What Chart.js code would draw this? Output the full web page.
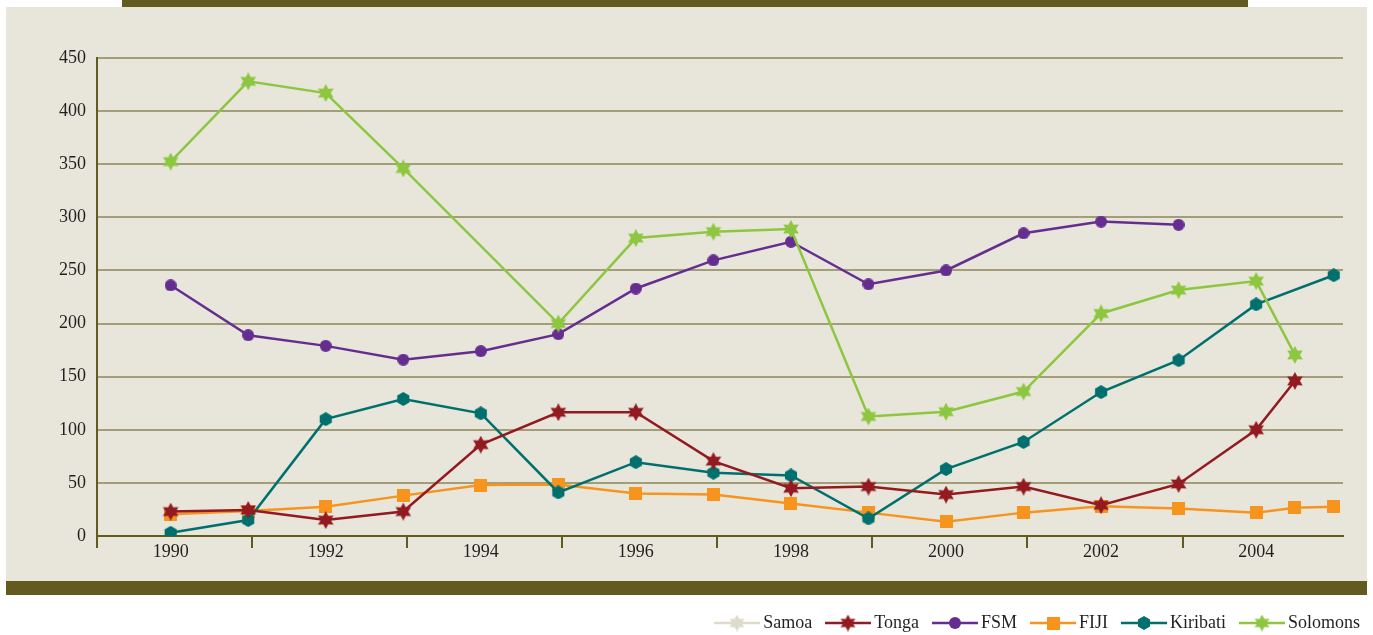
<!DOCTYPE html>
<html>
<head>
<meta charset="utf-8">
<script src="https://cdn.jsdelivr.net/npm/chart.js@4/dist/chart.umd.min.js"></script>
<style>
  body { margin: 0; background: #fff; width: 1373px; height: 635px; position: relative; overflow: hidden; }
  #panel { position: absolute; left: 6px; top: 7px; width: 1361px; height: 574px; background: #e8e6da; }
  #topBar { position: absolute; left: 122px; top: 0; width: 1126px; height: 7px; background: #625a1e; }
  #bottomBar { position: absolute; left: 6px; top: 581px; width: 1361px; height: 14px; background: #625a1e; }
  #chartBox { position: absolute; left: 0; top: 0; width: 1373px; height: 635px; }
  #legend { position: absolute; right: 13px; top: 612px; display: flex; align-items: center; gap: 13px;
            font-family: 'Liberation Serif', serif; font-size: 18px; color: #231f20; }
  .item { display: flex; align-items: center; gap: 3px; }
</style>
</head>
<body>
<div id="panel"></div>
<div id="topBar"></div>
<div id="bottomBar"></div>
<div id="chartBox"><canvas id="chart"></canvas></div>
<div id="legend"></div>
<script>
// years on a linear axis; 2004.5 and 2005 are the extra points at the right edge
const years = [1990, 1991, 1992, 1993, 1994, 1995, 1996, 1997, 1998, 1999, 2000, 2001, 2002, 2003, 2004, 2004.5, 2005];
const samoa = [null, null, null, null, null, null, null, null, null, null, null, null, null, null, null, null, null];
const tonga = [23, 24.5, 15, 23, 86, 116.5, 116.5, 70.5, 45, 46.5, 39, 46.5, 29, 49, 100, 146, null];
const fsm = [236, 189, 179, 166, 174, 190, 233, 259.5, 277, 237, 250, 285, 296, 293, null, null, null];
const fiji = [20.5, 23.5, 27.5, 38, 48, 48.5, 40, 39, 30.5, 22, 13.5, 22, 28, 26, 22, 26.5, 27.5];
const kiribati = [3, 15, 110, 129, 115.5, 41, 69.5, 59.5, 57, 16.5, 63, 88.5, 135.5, 165.5, 218, null, 245.5];
const solomons = [352.5, 428, 417, 346, null, 200, 280.5, 286.5, 289, 112.5, 117, 136, 209.5, 231.5, 240, 170.5, null];
const yTicks = [0, 50, 100, 150, 200, 250, 300, 350, 400, 450];
const xLabelYears = [1990, 1992, 1994, 1996, 1998, 2000, 2002, 2004];

const olive = '#625a1e';
const gridColor = '#a39d78';
const font = { family: "'Liberation Serif', serif", size: 18 };

function makeMarker(shape, color, size) {
    const c = document.createElement('canvas');
    c.width = size; c.height = size;
    const g = c.getContext('2d');
    const cx = size / 2, cy = size / 2;
    g.fillStyle = color;
    g.beginPath();
    if (shape === 'star') {
        const ro = size / 2, ri = size / 3.6;
        for (let i = 0; i < 12; i++) {
            const r = i % 2 === 0 ? ro : ri;
            const a = -Math.PI / 2 + i * Math.PI / 6;
            g.lineTo(cx + r * Math.cos(a), cy + r * Math.sin(a));
        }
    } else if (shape === 'hex') {
        const r = size / 2;
        for (let i = 0; i < 6; i++) {
            const a = -Math.PI / 2 + i * Math.PI / 3;
            g.lineTo(cx + r * Math.cos(a), cy + r * Math.sin(a));
        }
    } else if (shape === 'square') {
        g.rect(0, 0, size, size);
    } else {
        g.arc(cx, cy, size / 2, 0, Math.PI * 2);
    }
    g.closePath();
    g.fill();
    return c;
}

function series(label, values, color, shape, size, order) {
    return {
        label: label,
        data: years.map((y, i) => ({ x: y, y: values[i] })),
        borderColor: color,
        backgroundColor: color,
        borderWidth: 2.5,
        pointStyle: makeMarker(shape, color, size),
        pointRadius: size / 2,
        pointHoverRadius: size / 2,
        spanGaps: true,
        tension: 0,
        order: order,
        shape: shape,
        markerSize: size
    };
}

const datasets = [
    series('Samoa', samoa, '#dedbcb', 'star', 18, 6),
    series('Tonga', tonga, '#921a20', 'star', 18, 1),
    series('FSM', fsm, '#662d91', 'circle', 12, 3),
    series('FIJI', fiji, '#f7941d', 'square', 13, 5),
    series('Kiribati', kiribati, '#00706e', 'hex', 14, 4),
    series('Solomons', solomons, '#8dc63f', 'star', 18, 2)
];

const ctx = document.getElementById('chart').getContext('2d');
new Chart(ctx, {
    type: 'line',
    data: { datasets: datasets },
    options: {
        responsive: true,
        maintainAspectRatio: false,
        animation: false,
        layout: { padding: { left: 0, top: 58, right: 30, bottom: 59 } },
        plugins: { legend: { display: false }, tooltip: { enabled: false } },
        scales: {
            x: {
                type: 'linear',
                min: 1989.05,
                max: 2005.12,
                afterBuildTicks: scale => {
                    const ticks = [{ value: 1989.05 }];
                    xLabelYears.forEach(y => {
                        ticks.push({ value: y });
                        if (y < 2004) ticks.push({ value: y + 1.05 });
                    });
                    scale.ticks = ticks;
                },
                afterFit: scale => { scale.height = 40; },
                border: { color: olive, width: 2 },
                grid: {
                    drawOnChartArea: false,
                    tickLength: 12,
                    lineWidth: 2,
                    color: c => (c.tick && xLabelYears.includes(c.tick.value)) ? 'rgba(0,0,0,0)' : olive
                },
                ticks: {
                    autoSkip: false,
                    maxRotation: 0,
                    padding: -7,
                    color: '#231f20',
                    font: font,
                    callback: v => xLabelYears.includes(v) ? String(v) : ''
                }
            },
            y: {
                min: 0,
                max: 450,
                afterBuildTicks: scale => { scale.ticks = yTicks.map(v => ({ value: v })); },
                afterFit: scale => { scale.width = 97; },
                border: { color: olive, width: 2 },
                grid: {
                    drawTicks: false,
                    lineWidth: 2,
                    color: c => (c.tick && c.tick.value === 0) ? 'rgba(0,0,0,0)' : gridColor
                },
                ticks: { padding: 11, color: '#231f20', font: font }
            }
        }
    }
});

// legend below the panel: line with its marker, then the name
const legend = document.getElementById('legend');
datasets.forEach(ds => {
    const item = document.createElement('div');
    item.className = 'item';
    const c = document.createElement('canvas');
    c.width = 46; c.height = 18;
    const g = c.getContext('2d');
    g.strokeStyle = ds.borderColor;
    g.lineWidth = 2.5;
    g.beginPath();
    g.moveTo(0, 9); g.lineTo(46, 9);
    g.stroke();
    const ms = Math.min(ds.markerSize, 17);
    const m = makeMarker(ds.shape, ds.borderColor, ms);
    g.drawImage(m, 23 - ms / 2, 9 - ms / 2);
    const t = document.createElement('span');
    t.textContent = ds.label;
    item.appendChild(c);
    item.appendChild(t);
    legend.appendChild(item);
});
</script>
</body>
</html>
